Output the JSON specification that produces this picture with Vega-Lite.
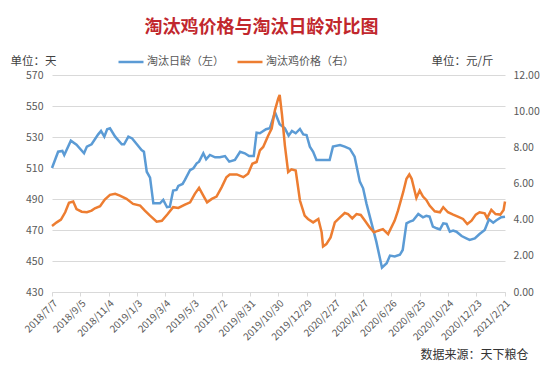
{
  "$schema": "https://vega.github.io/schema/vega-lite/v6.json",
  "width": 453,
  "height": 217,
  "autosize": "none",
  "padding": {"left": 52, "top": 75, "right": 45, "bottom": 77},
  "background": "white",
  "title": {"text": "淘汰鸡价格与淘汰日龄对比图", "fontSize": 18, "font": "Noto Sans CJK SC", "fontWeight": "bold", "color": "#C1272D", "anchor": "middle", "frame": "group", "dx": -17, "offset": 11},
  "config": {"view": {"stroke": null}, "font": "Noto Sans CJK SC"},
  "datasets": {
    "age": [
      {"date": "2018/7/7", "value": 510},
      {"date": "2018/7/20", "value": 520.5},
      {"date": "2018/7/29", "value": 521},
      {"date": "2018/8/2", "value": 518.4},
      {"date": "2018/8/16", "value": 527.6},
      {"date": "2018/8/28", "value": 525},
      {"date": "2018/9/13", "value": 519.5},
      {"date": "2018/9/19", "value": 523.8},
      {"date": "2018/9/29", "value": 525.3},
      {"date": "2018/10/13", "value": 531.7},
      {"date": "2018/10/19", "value": 533.9},
      {"date": "2018/10/26", "value": 530.2},
      {"date": "2018/11/1", "value": 535},
      {"date": "2018/11/7", "value": 535.6},
      {"date": "2018/11/18", "value": 530.2},
      {"date": "2018/12/2", "value": 525.3},
      {"date": "2018/12/7", "value": 525.3},
      {"date": "2018/12/16", "value": 530.2},
      {"date": "2018/12/24", "value": 529.1},
      {"date": "2019/1/3", "value": 525.3},
      {"date": "2019/1/13", "value": 521.6},
      {"date": "2019/1/18", "value": 520.5},
      {"date": "2019/1/24", "value": 507.6},
      {"date": "2019/1/31", "value": 503.8},
      {"date": "2019/2/7", "value": 487.2},
      {"date": "2019/2/21", "value": 487.2},
      {"date": "2019/2/28", "value": 489.4},
      {"date": "2019/3/8", "value": 484.7},
      {"date": "2019/3/14", "value": 485},
      {"date": "2019/3/21", "value": 495.4},
      {"date": "2019/3/28", "value": 495.8},
      {"date": "2019/4/1", "value": 498.4},
      {"date": "2019/4/10", "value": 499.7},
      {"date": "2019/4/15", "value": 502.3},
      {"date": "2019/4/26", "value": 508.7},
      {"date": "2019/5/3", "value": 509.8},
      {"date": "2019/5/10", "value": 513},
      {"date": "2019/5/15", "value": 514.1},
      {"date": "2019/5/24", "value": 519.5},
      {"date": "2019/5/30", "value": 515.6},
      {"date": "2019/6/7", "value": 518.4},
      {"date": "2019/6/18", "value": 516.9},
      {"date": "2019/6/28", "value": 516.9},
      {"date": "2019/7/9", "value": 517.7},
      {"date": "2019/7/18", "value": 514.1},
      {"date": "2019/7/30", "value": 515.2},
      {"date": "2019/8/10", "value": 520.5},
      {"date": "2019/8/20", "value": 519.5},
      {"date": "2019/8/29", "value": 517.7},
      {"date": "2019/9/8", "value": 517.7},
      {"date": "2019/9/14", "value": 532.8},
      {"date": "2019/9/21", "value": 532.4},
      {"date": "2019/10/4", "value": 535},
      {"date": "2019/10/12", "value": 535.6},
      {"date": "2019/10/23", "value": 546},
      {"date": "2019/11/2", "value": 538.2},
      {"date": "2019/11/13", "value": 535.6},
      {"date": "2019/11/21", "value": 530.9},
      {"date": "2019/11/28", "value": 533.9},
      {"date": "2019/12/6", "value": 532.4},
      {"date": "2019/12/15", "value": 535.2},
      {"date": "2019/12/22", "value": 531.7},
      {"date": "2019/12/29", "value": 531.3},
      {"date": "2020/1/5", "value": 523.8},
      {"date": "2020/1/12", "value": 520.5},
      {"date": "2020/1/19", "value": 515.2},
      {"date": "2020/2/16", "value": 515.2},
      {"date": "2020/2/23", "value": 523.8},
      {"date": "2020/3/9", "value": 524.8},
      {"date": "2020/3/19", "value": 523.8},
      {"date": "2020/3/30", "value": 522.3},
      {"date": "2020/4/9", "value": 517.3},
      {"date": "2020/4/20", "value": 501.2},
      {"date": "2020/4/27", "value": 496.9},
      {"date": "2020/5/4", "value": 487.2},
      {"date": "2020/5/15", "value": 474.3},
      {"date": "2020/5/25", "value": 462.5},
      {"date": "2020/6/6", "value": 445.7},
      {"date": "2020/6/16", "value": 448.6},
      {"date": "2020/6/23", "value": 453.5},
      {"date": "2020/7/3", "value": 452.9},
      {"date": "2020/7/14", "value": 454},
      {"date": "2020/7/20", "value": 457.1},
      {"date": "2020/7/28", "value": 474.3},
      {"date": "2020/8/4", "value": 475.4},
      {"date": "2020/8/11", "value": 476.1},
      {"date": "2020/8/22", "value": 480.4},
      {"date": "2020/9/1", "value": 478.2},
      {"date": "2020/9/8", "value": 479.1},
      {"date": "2020/9/15", "value": 478.6},
      {"date": "2020/9/22", "value": 472.2},
      {"date": "2020/9/30", "value": 471.1},
      {"date": "2020/10/7", "value": 470.4},
      {"date": "2020/10/14", "value": 474.3},
      {"date": "2020/10/21", "value": 473.9},
      {"date": "2020/10/28", "value": 468.9},
      {"date": "2020/11/4", "value": 469.6},
      {"date": "2020/11/11", "value": 468.9},
      {"date": "2020/11/22", "value": 466.1},
      {"date": "2020/12/2", "value": 464.6},
      {"date": "2020/12/9", "value": 463.6},
      {"date": "2020/12/20", "value": 464.6},
      {"date": "2020/12/30", "value": 467.4},
      {"date": "2021/1/10", "value": 470},
      {"date": "2021/1/19", "value": 476.9},
      {"date": "2021/1/28", "value": 474.7},
      {"date": "2021/2/3", "value": 476.1},
      {"date": "2021/2/14", "value": 478.2},
      {"date": "2021/2/22", "value": 478.6}
    ],
    "price": [
      {"date": "2018/7/7", "value": 3.65},
      {"date": "2018/7/17", "value": 3.85},
      {"date": "2018/7/26", "value": 4.0},
      {"date": "2018/8/4", "value": 4.41},
      {"date": "2018/8/12", "value": 4.93},
      {"date": "2018/8/21", "value": 5.0},
      {"date": "2018/8/28", "value": 4.59},
      {"date": "2018/9/8", "value": 4.44},
      {"date": "2018/9/19", "value": 4.41},
      {"date": "2018/9/29", "value": 4.5},
      {"date": "2018/10/6", "value": 4.63},
      {"date": "2018/10/17", "value": 4.74},
      {"date": "2018/10/27", "value": 5.11},
      {"date": "2018/11/7", "value": 5.37},
      {"date": "2018/11/18", "value": 5.43},
      {"date": "2018/11/28", "value": 5.33},
      {"date": "2018/12/12", "value": 5.15},
      {"date": "2018/12/26", "value": 4.87},
      {"date": "2019/1/10", "value": 4.78},
      {"date": "2019/1/20", "value": 4.5},
      {"date": "2019/1/31", "value": 4.22},
      {"date": "2019/2/14", "value": 3.89},
      {"date": "2019/2/25", "value": 3.94},
      {"date": "2019/3/9", "value": 4.3},
      {"date": "2019/3/21", "value": 4.69},
      {"date": "2019/4/1", "value": 4.65},
      {"date": "2019/4/15", "value": 4.83},
      {"date": "2019/4/26", "value": 4.96},
      {"date": "2019/5/6", "value": 5.43},
      {"date": "2019/5/15", "value": 5.76},
      {"date": "2019/5/24", "value": 5.33},
      {"date": "2019/6/1", "value": 4.96},
      {"date": "2019/6/11", "value": 5.15},
      {"date": "2019/6/21", "value": 5.28},
      {"date": "2019/7/2", "value": 5.8},
      {"date": "2019/7/12", "value": 6.35},
      {"date": "2019/7/19", "value": 6.5},
      {"date": "2019/8/3", "value": 6.5},
      {"date": "2019/8/17", "value": 6.35},
      {"date": "2019/8/27", "value": 6.54},
      {"date": "2019/9/5", "value": 7.09},
      {"date": "2019/9/14", "value": 7.19},
      {"date": "2019/9/21", "value": 7.83},
      {"date": "2019/9/28", "value": 8.02},
      {"date": "2019/10/9", "value": 8.67},
      {"date": "2019/10/16", "value": 9.04},
      {"date": "2019/10/23", "value": 10.06},
      {"date": "2019/10/30", "value": 10.7},
      {"date": "2019/11/2", "value": 10.9},
      {"date": "2019/11/7", "value": 9.78},
      {"date": "2019/11/13", "value": 8.11},
      {"date": "2019/11/20", "value": 6.63},
      {"date": "2019/11/27", "value": 6.78},
      {"date": "2019/12/6", "value": 6.72},
      {"date": "2019/12/15", "value": 5.06},
      {"date": "2019/12/25", "value": 4.22},
      {"date": "2020/1/1", "value": 4.04},
      {"date": "2020/1/12", "value": 3.85},
      {"date": "2020/1/23", "value": 4.04},
      {"date": "2020/1/30", "value": 3.3},
      {"date": "2020/2/2", "value": 2.52},
      {"date": "2020/2/9", "value": 2.65},
      {"date": "2020/2/18", "value": 3.02},
      {"date": "2020/2/27", "value": 3.85},
      {"date": "2020/3/9", "value": 4.13},
      {"date": "2020/3/19", "value": 4.37},
      {"date": "2020/3/26", "value": 4.31},
      {"date": "2020/4/4", "value": 4.07},
      {"date": "2020/4/13", "value": 4.31},
      {"date": "2020/4/22", "value": 4.26},
      {"date": "2020/5/1", "value": 3.94},
      {"date": "2020/5/11", "value": 3.57},
      {"date": "2020/5/20", "value": 3.3},
      {"date": "2020/5/29", "value": 3.39},
      {"date": "2020/6/8", "value": 3.48},
      {"date": "2020/6/19", "value": 3.2},
      {"date": "2020/7/3", "value": 3.95},
      {"date": "2020/7/10", "value": 4.5},
      {"date": "2020/7/21", "value": 5.52},
      {"date": "2020/7/28", "value": 6.26},
      {"date": "2020/8/3", "value": 6.5},
      {"date": "2020/8/8", "value": 6.26},
      {"date": "2020/8/18", "value": 5.2},
      {"date": "2020/8/25", "value": 5.61},
      {"date": "2020/9/1", "value": 5.28},
      {"date": "2020/9/8", "value": 5.09},
      {"date": "2020/9/15", "value": 4.78},
      {"date": "2020/9/26", "value": 4.46},
      {"date": "2020/10/7", "value": 4.41},
      {"date": "2020/10/14", "value": 4.69},
      {"date": "2020/10/24", "value": 4.41},
      {"date": "2020/11/4", "value": 4.28},
      {"date": "2020/11/14", "value": 4.17},
      {"date": "2020/11/25", "value": 4.04},
      {"date": "2020/12/4", "value": 3.76},
      {"date": "2020/12/13", "value": 3.94},
      {"date": "2020/12/22", "value": 4.28},
      {"date": "2020/12/30", "value": 4.41},
      {"date": "2021/1/10", "value": 4.35},
      {"date": "2021/1/15", "value": 4.09},
      {"date": "2021/1/24", "value": 4.54},
      {"date": "2021/2/2", "value": 4.31},
      {"date": "2021/2/12", "value": 4.28},
      {"date": "2021/2/19", "value": 4.54},
      {"date": "2021/2/22", "value": 5.0}
    ]
  },
  "encoding": {
    "x": {
      "field": "date", "type": "temporal",
      "scale": {"domain": [{"year": 2018, "month": 7, "date": 7}, {"year": 2021, "month": 2, "date": 22}]},
      "axis": {
        "values": [
          {"year": 2018, "month": 7, "date": 7}, {"year": 2018, "month": 9, "date": 5}, {"year": 2018, "month": 11, "date": 4},
          {"year": 2019, "month": 1, "date": 3}, {"year": 2019, "month": 3, "date": 4}, {"year": 2019, "month": 5, "date": 3},
          {"year": 2019, "month": 7, "date": 2}, {"year": 2019, "month": 8, "date": 31}, {"year": 2019, "month": 10, "date": 30},
          {"year": 2019, "month": 12, "date": 29}, {"year": 2020, "month": 2, "date": 27}, {"year": 2020, "month": 4, "date": 27},
          {"year": 2020, "month": 6, "date": 26}, {"year": 2020, "month": 8, "date": 25}, {"year": 2020, "month": 10, "date": 24},
          {"year": 2020, "month": 12, "date": 23}, {"year": 2021, "month": 2, "date": 21}
        ],
        "format": "%Y/%-m/%-d",
        "labelAngle": -45,
        "labelFontSize": 10,
        "labelColor": "#595959",
        "labelOverlap": false,
        "labelBound": false,
        "labelFlush": false,
        "labelPadding": 2,
        "grid": false,
        "domainColor": "#D9D9D9",
        "tickColor": "#D9D9D9",
        "tickSize": 4,
        "title": "数据来源：天下粮仓",
        "titleX": 476,
        "titleY": 62,
        "titleAlign": "right",
        "titleAnchor": null,
        "titleBaseline": "middle",
        "titleFontSize": 12,
        "titleFontWeight": "normal",
        "titleColor": "#333333"
      }
    }
  },
  "layer": [
    {
      "data": {"name": "age"},
      "mark": {"type": "line", "strokeWidth": 2.5},
      "encoding": {
        "y": {
          "field": "value", "type": "quantitative",
          "scale": {"domain": [430, 570], "zero": false, "nice": false},
          "axis": {
            "values": [430, 450, 470, 490, 510, 530, 550, 570],
            "format": "d",
            "labelColor": "#595959",
            "labelFontSize": 10.5,
            "grid": true,
            "gridColor": "#D9D9D9",
            "domain": false,
            "ticks": false,
            "labelPadding": 9,
            "title": "单位：天",
            "titleAngle": 0,
            "titleX": -42,
            "titleY": -14,
            "titleAlign": "left",
            "titleBaseline": "middle",
            "titleFontSize": 11.5,
            "titleFontWeight": "normal",
            "titleColor": "#404040"
          }
        },
        "color": {
          "datum": "淘汰日龄（左）", "type": "nominal",
          "scale": {"domain": ["淘汰日龄（左）", "淘汰鸡价格（右）"], "range": ["#5B9BD5", "#ED7D31"]},
          "legend": {
            "orient": "none", "legendX": 65, "legendY": -27, "direction": "horizontal", "title": null,
            "symbolType": "stroke", "symbolSize": 625, "symbolStrokeWidth": 2.5,
            "labelFontSize": 11, "labelColor": "#595959", "columnPadding": 8, "labelOffset": 2, "padding": 0
          }
        }
      }
    },
    {
      "data": {"name": "price"},
      "mark": {"type": "line", "strokeWidth": 2.5},
      "encoding": {
        "y": {
          "field": "value", "type": "quantitative",
          "scale": {"domain": [0, 12], "nice": false},
          "axis": {
            "orient": "right",
            "values": [0, 2, 4, 6, 8, 10, 12],
            "format": ".2f",
            "labelColor": "#595959",
            "labelFontSize": 10.5,
            "grid": false,
            "domain": false,
            "ticks": false,
            "labelPadding": 8,
            "title": "单位：元/斤",
            "titleAngle": 0,
            "titleX": -12,
            "titleY": -14,
            "titleAlign": "right",
            "titleBaseline": "middle",
            "titleFontSize": 11.5,
            "titleFontWeight": "normal",
            "titleColor": "#404040"
          }
        },
        "color": {"datum": "淘汰鸡价格（右）", "type": "nominal"}
      }
    }
  ],
  "resolve": {"scale": {"y": "independent"}}
}
